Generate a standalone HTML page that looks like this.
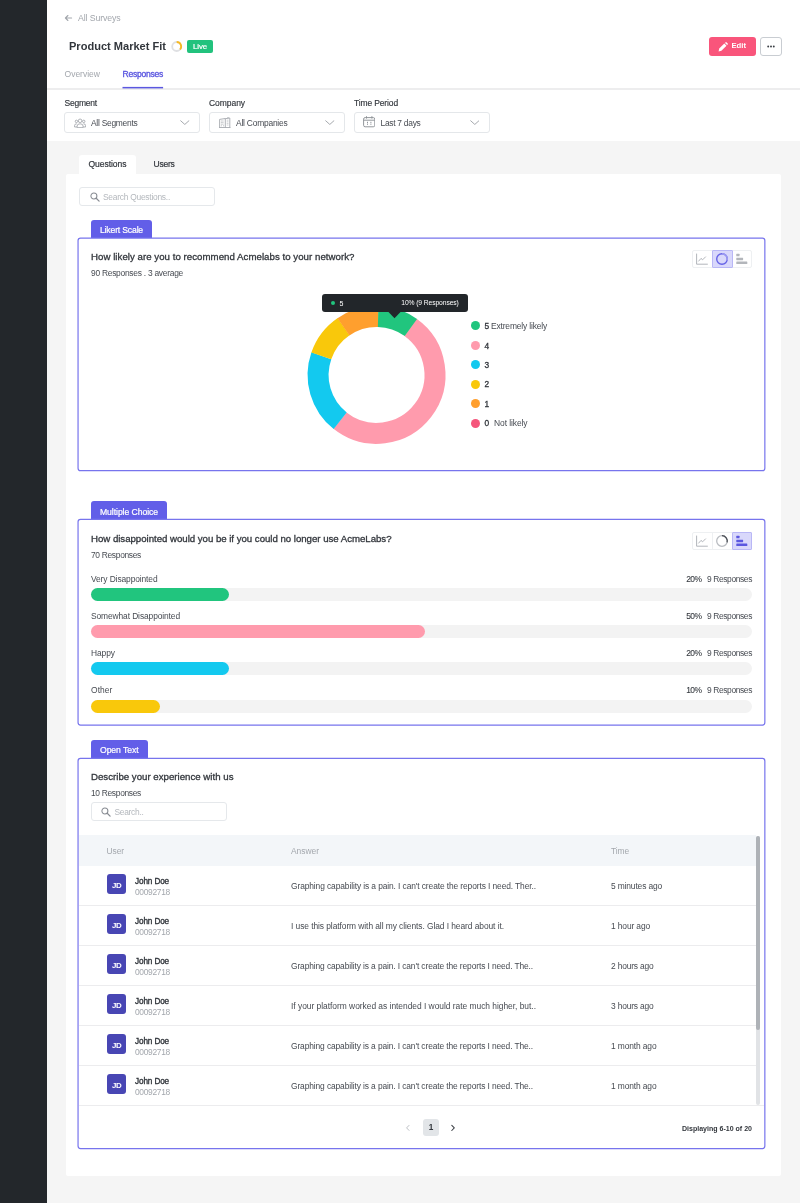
<!DOCTYPE html>
<html lang="en"><head><meta charset="utf-8"><title>Product Market Fit - Responses</title>
<style>
*{box-sizing:border-box;margin:0;padding:0}
html,body{width:800px;height:1203px;overflow:hidden}
body{position:relative;background:#f5f5f5;font-family:"Liberation Sans",sans-serif;-webkit-font-smoothing:antialiased}
.a{position:absolute}
.t{position:absolute;white-space:nowrap;line-height:1;transform:translateY(-47%)}
.side{left:0;top:0;width:47px;height:1203px;background:#23272b}
.head{left:47px;top:0;width:753px;height:141px;background:#fff}
.hr{left:47px;top:88px;width:753px;height:2px;background:#ededee}
.tabline{left:122.5px;top:87px;width:40.5px;height:1.3px;background:#5b57e0}
.live{left:187px;top:40px;width:26px;height:13px;background:#22c27d;border-radius:2px}
.edit{left:709px;top:37px;width:46.5px;height:18.5px;background:#f9557b;border-radius:3px}
.more{left:760px;top:37px;width:22px;height:18.5px;background:#fff;border:1px solid #c9cdd2;border-radius:3px}
.sel{top:112px;width:136px;height:21px;background:#fff;border:1px solid #e4e7ea;border-radius:3px}
.panel{left:66px;top:174px;width:715px;height:1001.5px;background:#fff;border-radius:2px}
.qtab{left:79px;top:154.5px;width:56.5px;height:22px;background:#fff;border-radius:3px 3px 0 0}
.inp{background:#fff;border:1px solid #e5e8eb;border-radius:3px}
.ctab{left:91px;height:18px;background:#625ee8;border-radius:3px 3px 0 0}
.card{left:77px;width:689px;border:2px solid #9794f4;border-radius:3px;background:#fff}
.tog{left:692px;width:60px;height:18px;border:1px solid #eef0f2;border-radius:2px;background:#fff}
.tog i{position:absolute;top:-1px;width:20.5px;height:18px;display:block}
.tog .on{background:#d9d8fb;border:1px solid #b9b7f6;border-radius:1px}
.track{left:91px;width:661px;height:13px;border-radius:7px;background:#f3f3f3}
.bar{left:91px;height:13px;border-radius:7px}
.thead{left:79px;top:835px;width:677px;height:30.5px;background:#f3f6f9}
.rl{left:79px;width:677px;height:1px;background:#ececee}
.av{left:107px;width:19px;height:19.6px;border-radius:3px;background:#4846b4}
.dot{left:471px;width:9px;height:9px;border-radius:50%}
.tog .dv{width:1px;height:16px;top:0;background:#eef0f2}

</style></head><body>
<div class="a side"></div>
<div class="a head"></div>
<div class="a hr"></div>
<svg class="a" style="left:120px;top:85px" width="46" height="5" viewBox="120 85 46 5"><rect x="122.5" y="86.9" width="40.6" height="1.5" fill="#5b57e0"/></svg>
<!-- back arrow -->
<svg class="a" style="left:64px;top:14.4px" width="9" height="8" viewBox="0 0 9 8"><path d="M7.6 4H1.6M3.9 1.5L1.4 4L3.9 6.5" fill="none" stroke="#a3a7ad" stroke-width="1.1" stroke-linecap="round" stroke-linejoin="round"/></svg>
<!-- spinner -->
<svg class="a" style="left:171px;top:40px" width="12" height="12" viewBox="0 0 12 12"><circle cx="5.7" cy="6.5" r="4.5" fill="none" stroke="#dfe0e3" stroke-width="1.8"/><path d="M5.7 2A4.5 4.5 0 0 1 9 9.5" fill="none" stroke="#f7b924" stroke-width="1.8"/></svg>
<div class="a live"></div>
<div class="a edit"></div>
<svg class="a" style="left:717.5px;top:41.5px" width="10" height="10" viewBox="0 0 10 10"><path d="M0.6 9.4L1.2 6.6L6.3 1.5L8.5 3.7L3.4 8.8Z M7 0.9L7.6 0.3Q8 0 8.4 0.3L9.7 1.6Q10 2 9.7 2.4L9.1 3Z" fill="#fff"/></svg>
<div class="a more"></div>
<svg class="a" style="left:766px;top:44.5px" width="10" height="3" viewBox="0 0 10 3"><circle cx="2.2" cy="1.5" r="0.95" fill="#3a3e44"/><circle cx="5" cy="1.5" r="0.95" fill="#3a3e44"/><circle cx="7.8" cy="1.5" r="0.95" fill="#3a3e44"/></svg>
<!-- selects -->
<div class="a sel" style="left:64px"></div>
<div class="a sel" style="left:209px"></div>
<div class="a sel" style="left:354px"></div>
<svg class="a" style="left:180px;top:120px" width="9.6" height="5.4" viewBox="0 0 11 6"><path d="M0.8 0.8L5.5 5L10.2 0.8" fill="none" stroke="#8d9197" stroke-width="0.9" stroke-linecap="round" stroke-linejoin="round"/></svg>
<svg class="a" style="left:325px;top:120px" width="9.6" height="5.4" viewBox="0 0 11 6"><path d="M0.8 0.8L5.5 5L10.2 0.8" fill="none" stroke="#8d9197" stroke-width="0.9" stroke-linecap="round" stroke-linejoin="round"/></svg>
<svg class="a" style="left:469.7px;top:120px" width="9.6" height="5.4" viewBox="0 0 11 6"><path d="M0.8 0.8L5.5 5L10.2 0.8" fill="none" stroke="#8d9197" stroke-width="0.9" stroke-linecap="round" stroke-linejoin="round"/></svg>
<!-- select icons -->
<svg class="a" style="left:74px;top:117.6px" width="12.2" height="10.3" viewBox="0 0 13 11"><g fill="none" stroke="#9a9ea4" stroke-width="0.85"><circle cx="6.5" cy="3" r="1.9"/><path d="M3.3 10.3V8.6Q3.3 6.2 6.5 6.2Q9.7 6.2 9.7 8.6V10.3Z"/><circle cx="2.6" cy="3.6" r="1.3"/><circle cx="10.4" cy="3.6" r="1.3"/><path d="M3 6.2Q0.6 6.2 0.6 8V9.6H3.2M10 6.2Q12.4 6.2 12.4 8V9.6H9.8"/></g></svg>
<svg class="a" style="left:219px;top:117px" width="11.5" height="11" viewBox="0 0 11.5 11"><g fill="none" stroke="#9a9ea4" stroke-width="0.8"><path d="M0.6 10.4V2.4L6.3 1.5V10.4M6.3 1.7L10.8 1V10.4M0 10.5H11.5M9 0V1.2"/><path d="M1.9 4H5M1.9 5.6H5M1.9 7.2H5M1.9 8.8H2.9M4 8.8H5M7.8 3.2H9.5M7.8 4.8H9.5M7.8 6.4H9.5M7.8 8H9.5" stroke-width="0.7" stroke-dasharray="0.9 0.5"/></g></svg>
<svg class="a" style="left:363px;top:116.3px" width="12.4" height="11.4" viewBox="0 0 12.4 11.4"><g fill="none" stroke="#8d9197" stroke-width="0.95"><rect x="0.6" y="1.6" width="11.2" height="9.2" rx="1.5"/><path d="M0.6 4.2H11.8M3.5 0.2V2.6M8.9 0.2V2.6"/><path d="M4.5 5.8V8.8M7.9 5.8V8.8" stroke-width="1" stroke-dasharray="1.2 0.6"/></g></svg>
<!-- panel -->
<div class="a qtab"></div>
<div class="a panel"></div>
<div class="a inp" style="left:79px;top:187px;width:136px;height:19px"></div>
<svg class="a" style="left:89.5px;top:191.5px" width="10" height="10" viewBox="0 0 10 10"><circle cx="3.9" cy="3.9" r="3" fill="none" stroke="#888c93" stroke-width="1.05"/><path d="M6.2 6.2L9.1 9.1" stroke="#888c93" stroke-width="1.25" stroke-linecap="round"/></svg>
<!-- card 1 -->
<div class="a ctab" style="top:219.5px;width:61px"></div>
<svg class="a" style="left:70px;top:234px" width="700" height="242" viewBox="70 234 700 242"><rect x="78.05" y="238.1" width="686.8" height="232.6" rx="2.5" fill="#fff" stroke="#7774ed" stroke-width="1.2"/></svg>
<div class="a tog" style="top:250px"><i class="on" style="left:19px"></i></div>
<svg class="a" style="left:692.25px;top:250px" width="60" height="18" viewBox="0 0 60 18">
<g fill="none" stroke="#a9adb3" stroke-width="0.9"><path d="M4.6 3.6V14.2H15.8"/><path d="M6.4 11.4L9 8.4L10.6 9.8L13.8 6.6" stroke-linejoin="round"/></g>
<circle cx="30" cy="9" r="5.3" fill="none" stroke="#6562e6" stroke-width="1.4"/>
<path d="M30 3.7A5.3 5.3 0 0 1 35.1 10.4" fill="none" stroke="#9c9af2" stroke-width="1.4"/>
<g fill="#b3b6bb"><rect x="44.3" y="3.8" width="3.2" height="2.5" rx="0.4"/><rect x="44.3" y="7.7" width="6.8" height="2.5" rx="0.4"/><rect x="44.3" y="11.6" width="11" height="2.5" rx="0.4"/></g>
</svg>
<!-- donut -->
<svg class="a" style="left:300px;top:296px" width="160" height="156" viewBox="300 296 160 156">
<g fill="none" stroke-width="21" transform="translate(376.6 375)">
<path d="M33.97 -47.63A58.5 58.5 0 1 1 -36.58 45.66" stroke="#ff9bad"/><path d="M-36.42 45.78A58.5 58.5 0 0 1 -55.25 -19.24" stroke="#13c9ef"/><path d="M-55.31 -19.05A58.5 58.5 0 0 1 -32.97 -48.33" stroke="#f9c80b"/><path d="M-33.13 -48.21A58.5 58.5 0 0 1 1.84 -58.47" stroke="#ff9f2e"/><path d="M1.53 -58.48A58.5 58.5 0 0 1 34.30 -47.39" stroke="#21c57e"/>
</g></svg>
<!-- tooltip -->
<div class="a" style="left:321.5px;top:294.25px;width:146px;height:17.5px;background:#22262a;border-radius:3px"></div>
<svg class="a" style="left:388px;top:311.5px" width="13" height="7" viewBox="0 0 13 7"><path d="M0.5 0H12.5L6.5 6.2Z" fill="#22262a"/></svg>
<div class="a" style="left:330.5px;top:301px;width:4px;height:4px;border-radius:50%;background:#21c57e"></div>
<!-- legend -->
<div class="a dot" style="top:321.4px;background:#21c57e"></div>
<div class="a dot" style="top:341px;background:#ff9bad"></div>
<div class="a dot" style="top:360.4px;background:#13c9ef"></div>
<div class="a dot" style="top:379.9px;background:#f9c80b"></div>
<div class="a dot" style="top:399.3px;background:#ff9f2e"></div>
<div class="a dot" style="top:418.8px;background:#f5557b"></div>
<!-- card 2 -->
<div class="a ctab" style="top:501.25px;width:76px"></div>
<svg class="a" style="left:70px;top:515px" width="700" height="215" viewBox="70 515 700 215"><rect x="78.05" y="519.3" width="686.8" height="205.8" rx="2.5" fill="#fff" stroke="#7774ed" stroke-width="1.2"/></svg>
<div class="a tog" style="top:532.3px"><i class="dv" style="left:19px"></i><i class="on" style="left:39px;width:20px"></i></div>
<svg class="a" style="left:692.25px;top:532.3px" width="60" height="18" viewBox="0 0 60 18">
<g fill="none" stroke="#a9adb3" stroke-width="0.9"><path d="M4.6 3.6V14.2H15.8"/><path d="M6.4 11.4L9 8.4L10.6 9.8L13.8 6.6" stroke-linejoin="round"/></g>
<circle cx="30" cy="9" r="5.3" fill="none" stroke="#b9bcc1" stroke-width="1.3"/>
<path d="M30 3.7A5.3 5.3 0 0 1 35.1 10.4" fill="none" stroke="#4a4e55" stroke-width="1.3"/>
<g fill="#5b57e0"><rect x="44.3" y="3.8" width="3.2" height="2.5" rx="0.4"/><rect x="44.3" y="7.7" width="6.8" height="2.5" rx="0.4"/><rect x="44.3" y="11.6" width="11" height="2.5" rx="0.4"/></g>
</svg>
<div class="a track" style="top:588px"></div><div class="a bar" style="top:588px;width:138px;background:#21c57e"></div>
<div class="a track" style="top:625.2px"></div><div class="a bar" style="top:625.2px;width:333.5px;background:#ff9bad"></div>
<div class="a track" style="top:662.4px"></div><div class="a bar" style="top:662.4px;width:138px;background:#13c9ef"></div>
<div class="a track" style="top:699.6px"></div><div class="a bar" style="top:699.6px;width:69px;background:#f9c80b"></div>
<!-- card 3 -->
<div class="a ctab" style="top:739.5px;width:56.5px"></div>
<svg class="a" style="left:70px;top:754px" width="700" height="399" viewBox="70 754 700 399"><rect x="78.05" y="758.4" width="686.8" height="390.2" rx="2.5" fill="#fff" stroke="#7774ed" stroke-width="1.2"/></svg>
<div class="a inp" style="left:91px;top:802px;width:136px;height:19px"></div>
<svg class="a" style="left:101px;top:806.5px" width="10" height="10" viewBox="0 0 10 10"><circle cx="3.9" cy="3.9" r="3" fill="none" stroke="#888c93" stroke-width="1.05"/><path d="M6.2 6.2L9.1 9.1" stroke="#888c93" stroke-width="1.25" stroke-linecap="round"/></svg>
<div class="a thead"></div>
<div class="a rl" style="top:905px"></div><div class="a rl" style="top:945px"></div><div class="a rl" style="top:985px"></div><div class="a rl" style="top:1025px"></div><div class="a rl" style="top:1065px"></div><div class="a rl" style="top:1105px;width:685px"></div>
<div class="a av" style="top:874.4px"></div><div class="a av" style="top:914.4px"></div><div class="a av" style="top:954.4px"></div><div class="a av" style="top:994.4px"></div><div class="a av" style="top:1034.4px"></div><div class="a av" style="top:1074.4px"></div>
<!-- scrollbar -->
<div class="a" style="left:756px;top:836px;width:3.5px;height:269px;background:#e1e3e6;border-radius:2px"></div>
<div class="a" style="left:756px;top:836px;width:3.5px;height:194px;background:#aeb2b7;border-radius:2px"></div>
<!-- pagination -->
<div class="a" style="left:423px;top:1119px;width:16px;height:17px;background:#e2e5e8;border-radius:3px"></div>
<svg class="a" style="left:405px;top:1124px" width="6" height="8" viewBox="0 0 6 8"><path d="M4 1.4L1.6 3.9L4 6.4" fill="none" stroke="#b4b8bd" stroke-width="0.9" stroke-linecap="round" stroke-linejoin="round"/></svg>
<svg class="a" style="left:449.5px;top:1124px" width="6" height="8" viewBox="0 0 6 8"><path d="M1.8 1.3L4.3 3.9L1.8 6.5" fill="none" stroke="#3e4248" stroke-width="1.05" stroke-linecap="round" stroke-linejoin="round"/></svg>

<span class="t" id="t0" style="left:78px;top:18.0px;font-size:8.75px;font-weight:400;color:#a3a7ad;letter-spacing:-0.115px;">All Surveys</span>
<span class="t" id="t1" style="left:69px;top:46.2px;font-size:11.05px;font-weight:700;color:#32363c;letter-spacing:0.001px;">Product Market Fit</span>
<span class="t" id="t2" style="left:193px;top:47.0px;font-size:7.85px;font-weight:400;color:#ffffff;letter-spacing:-0.098px;-webkit-text-stroke:0.2px #ffffff;">Live</span>
<span class="t" id="t3" style="left:64.5px;top:74.0px;font-size:8.54px;font-weight:400;color:#a3a7ad;letter-spacing:-0.008px;">Overview</span>
<span class="t" id="t4" style="left:122.5px;top:74.0px;font-size:8.54px;font-weight:400;color:#5b57e0;letter-spacing:-0.243px;-webkit-text-stroke:0.35px #5b57e0;">Responses</span>
<span class="t" id="t5" style="left:731.5px;top:46px;font-size:7.68px;font-weight:700;color:#ffffff;">Edit</span>
<span class="t" id="t6" style="left:64.5px;top:103px;font-size:8.49px;font-weight:400;color:#32363c;letter-spacing:-0.210px;-webkit-text-stroke:0.15px #32363c;">Segment</span>
<span class="t" id="t7" style="left:209px;top:103px;font-size:8.49px;font-weight:400;color:#32363c;letter-spacing:-0.045px;-webkit-text-stroke:0.15px #32363c;">Company</span>
<span class="t" id="t8" style="left:354px;top:103px;font-size:8.49px;font-weight:400;color:#32363c;letter-spacing:-0.129px;-webkit-text-stroke:0.15px #32363c;">Time Period</span>
<span class="t" id="t9" style="left:91px;top:122.5px;font-size:8.41px;font-weight:400;color:#474b52;letter-spacing:-0.253px;">All Segments</span>
<span class="t" id="t10" style="left:236px;top:122.5px;font-size:8.41px;font-weight:400;color:#474b52;letter-spacing:-0.208px;">All Companies</span>
<span class="t" id="t11" style="left:380.5px;top:122.5px;font-size:8.41px;font-weight:400;color:#474b52;letter-spacing:-0.273px;">Last 7 days</span>
<span class="t" id="t12" style="left:88.5px;top:164.1px;font-size:8.54px;font-weight:400;color:#32363c;letter-spacing:-0.047px;-webkit-text-stroke:0.2px #32363c;">Questions</span>
<span class="t" id="t13" style="left:153.5px;top:164.1px;font-size:8.54px;font-weight:400;color:#32363c;letter-spacing:-0.256px;-webkit-text-stroke:0.2px #32363c;">Users</span>
<span class="t" id="t14" style="left:103px;top:197px;font-size:8.41px;font-weight:400;color:#b4b8bd;letter-spacing:-0.250px;">Search Questions..</span>
<span class="t" id="t15" style="left:100px;top:230px;font-size:8.65px;font-weight:400;color:#ffffff;letter-spacing:-0.172px;-webkit-text-stroke:0.2px #ffffff;">Likert Scale</span>
<span class="t" id="t16" style="left:91px;top:257.0px;font-size:9.67px;font-weight:400;color:#32363c;letter-spacing:0.037px;-webkit-text-stroke:0.3px #32363c;">How likely are you to recommend Acmelabs to your network?</span>
<span class="t" id="t17" style="left:91px;top:272.75px;font-size:8.41px;font-weight:400;color:#474b52;letter-spacing:-0.256px;">90 Responses . 3 average</span>
<span class="t" id="t18" style="left:339.5px;top:303px;font-size:7.04px;font-weight:400;color:#ffffff;">5</span>
<span class="t" id="t19" style="left:401.25px;top:303px;font-size:6.74px;font-weight:400;color:#ffffff;letter-spacing:-0.097px;">10% (9 Responses)</span>
<span class="t" id="t20" style="left:484.5px;top:326px;font-size:8.36px;font-weight:400;color:#32363c;-webkit-text-stroke:0.3px #32363c;">5</span>
<span class="t" id="t21" style="left:491px;top:326px;font-size:8.46px;font-weight:400;color:#474b52;letter-spacing:-0.170px;">Extremely likely</span>
<span class="t" id="t22" style="left:484.5px;top:345.5px;font-size:8.36px;font-weight:400;color:#32363c;-webkit-text-stroke:0.3px #32363c;">4</span>
<span class="t" id="t23" style="left:484.5px;top:365px;font-size:8.36px;font-weight:400;color:#32363c;-webkit-text-stroke:0.3px #32363c;">3</span>
<span class="t" id="t24" style="left:484.5px;top:384.4px;font-size:8.36px;font-weight:400;color:#32363c;-webkit-text-stroke:0.3px #32363c;">2</span>
<span class="t" id="t25" style="left:484.5px;top:403.8px;font-size:8.36px;font-weight:400;color:#32363c;-webkit-text-stroke:0.3px #32363c;">1</span>
<span class="t" id="t26" style="left:484.5px;top:423.3px;font-size:8.36px;font-weight:400;color:#32363c;-webkit-text-stroke:0.3px #32363c;">0</span>
<span class="t" id="t27" style="left:494px;top:423.3px;font-size:8.46px;font-weight:400;color:#474b52;letter-spacing:-0.080px;">Not likely</span>
<span class="t" id="t28" style="left:100px;top:512px;font-size:8.65px;font-weight:400;color:#ffffff;letter-spacing:-0.065px;-webkit-text-stroke:0.2px #ffffff;">Multiple Choice</span>
<span class="t" id="t29" style="left:91px;top:538.8px;font-size:9.67px;font-weight:400;color:#32363c;letter-spacing:-0.026px;-webkit-text-stroke:0.3px #32363c;">How disappointed would you be if you could no longer use AcmeLabs?</span>
<span class="t" id="t30" style="left:91px;top:554.75px;font-size:8.41px;font-weight:400;color:#474b52;letter-spacing:-0.312px;">70 Responses</span>
<span class="t" id="t31" style="left:91px;top:578.5px;font-size:8.41px;font-weight:400;color:#474b52;letter-spacing:-0.102px;">Very Disappointed</span>
<span class="t" id="t32" style="left:686.25px;top:578.5px;font-size:8.41px;font-weight:400;color:#32363c;letter-spacing:-0.609px;-webkit-text-stroke:0.08px #32363c;">20%</span>
<span class="t" id="t33" style="left:707px;top:578.5px;font-size:8.41px;font-weight:400;color:#474b52;letter-spacing:-0.371px;">9 Responses</span>
<span class="t" id="t34" style="left:91px;top:615.7px;font-size:8.41px;font-weight:400;color:#474b52;letter-spacing:-0.101px;">Somewhat Disappointed</span>
<span class="t" id="t35" style="left:686.25px;top:615.7px;font-size:8.41px;font-weight:400;color:#32363c;letter-spacing:-0.609px;-webkit-text-stroke:0.08px #32363c;">50%</span>
<span class="t" id="t36" style="left:707px;top:615.7px;font-size:8.41px;font-weight:400;color:#474b52;letter-spacing:-0.371px;">9 Responses</span>
<span class="t" id="t37" style="left:91px;top:652.9px;font-size:8.41px;font-weight:400;color:#474b52;letter-spacing:-0.062px;">Happy</span>
<span class="t" id="t38" style="left:686.25px;top:652.9px;font-size:8.41px;font-weight:400;color:#32363c;letter-spacing:-0.609px;-webkit-text-stroke:0.08px #32363c;">20%</span>
<span class="t" id="t39" style="left:707px;top:652.9px;font-size:8.41px;font-weight:400;color:#474b52;letter-spacing:-0.371px;">9 Responses</span>
<span class="t" id="t40" style="left:91px;top:690.1px;font-size:8.41px;font-weight:400;color:#474b52;letter-spacing:0.094px;">Other</span>
<span class="t" id="t41" style="left:686.25px;top:690.1px;font-size:8.41px;font-weight:400;color:#32363c;letter-spacing:-0.609px;-webkit-text-stroke:0.08px #32363c;">10%</span>
<span class="t" id="t42" style="left:707px;top:690.1px;font-size:8.41px;font-weight:400;color:#474b52;letter-spacing:-0.371px;">9 Responses</span>
<span class="t" id="t43" style="left:100px;top:750px;font-size:8.65px;font-weight:400;color:#ffffff;letter-spacing:-0.073px;-webkit-text-stroke:0.2px #ffffff;">Open Text</span>
<span class="t" id="t44" style="left:91px;top:777.0px;font-size:9.67px;font-weight:400;color:#32363c;letter-spacing:0.008px;-webkit-text-stroke:0.3px #32363c;">Describe your experience with us</span>
<span class="t" id="t45" style="left:91px;top:793px;font-size:8.41px;font-weight:400;color:#474b52;letter-spacing:-0.312px;">10 Responses</span>
<span class="t" id="t46" style="left:114.5px;top:812px;font-size:8.41px;font-weight:400;color:#b4b8bd;letter-spacing:-0.289px;">Search..</span>
<span class="t" id="t47" style="left:106.5px;top:850.75px;font-size:8.41px;font-weight:400;color:#a3a7ad;letter-spacing:-0.062px;">User</span>
<span class="t" id="t48" style="left:291px;top:850.75px;font-size:8.41px;font-weight:400;color:#a3a7ad;letter-spacing:-0.005px;">Answer</span>
<span class="t" id="t49" style="left:611px;top:850.75px;font-size:8.41px;font-weight:400;color:#a3a7ad;letter-spacing:-0.094px;">Time</span>
<span class="t" id="t50" style="left:135px;top:881.6px;font-size:8.18px;font-weight:400;color:#32363c;letter-spacing:-0.123px;-webkit-text-stroke:0.35px #32363c;">John Doe</span>
<span class="t" id="t51" style="left:135px;top:891.8px;font-size:8.41px;font-weight:400;color:#a3a7ad;letter-spacing:-0.301px;">00092718</span>
<span class="t" id="t52" style="left:291px;top:886px;font-size:8.41px;font-weight:400;color:#474b52;letter-spacing:-0.103px;">Graphing capability is a pain. I can't create the reports I need. Ther..</span>
<span class="t" id="t53" style="left:611px;top:886px;font-size:8.41px;font-weight:400;color:#474b52;letter-spacing:-0.139px;">5 minutes ago</span>
<span class="t" id="t54" style="left:112px;top:885.9px;font-size:7.91px;font-weight:700;color:#ffffff;letter-spacing:-0.455px;">JD</span>
<span class="t" id="t55" style="left:135px;top:921.6px;font-size:8.18px;font-weight:400;color:#32363c;letter-spacing:-0.123px;-webkit-text-stroke:0.35px #32363c;">John Doe</span>
<span class="t" id="t56" style="left:135px;top:931.8px;font-size:8.41px;font-weight:400;color:#a3a7ad;letter-spacing:-0.301px;">00092718</span>
<span class="t" id="t57" style="left:291px;top:926px;font-size:8.41px;font-weight:400;color:#474b52;letter-spacing:-0.068px;">I use this platform with all my clients. Glad I heard about it.</span>
<span class="t" id="t58" style="left:611px;top:926px;font-size:8.41px;font-weight:400;color:#474b52;letter-spacing:-0.120px;">1 hour ago</span>
<span class="t" id="t59" style="left:112px;top:925.9px;font-size:7.91px;font-weight:700;color:#ffffff;letter-spacing:-0.455px;">JD</span>
<span class="t" id="t60" style="left:135px;top:961.6px;font-size:8.18px;font-weight:400;color:#32363c;letter-spacing:-0.123px;-webkit-text-stroke:0.35px #32363c;">John Doe</span>
<span class="t" id="t61" style="left:135px;top:971.8px;font-size:8.41px;font-weight:400;color:#a3a7ad;letter-spacing:-0.301px;">00092718</span>
<span class="t" id="t62" style="left:291px;top:966px;font-size:8.41px;font-weight:400;color:#474b52;letter-spacing:-0.113px;">Graphing capability is a pain. I can't create the reports I need. The..</span>
<span class="t" id="t63" style="left:611px;top:966px;font-size:8.41px;font-weight:400;color:#474b52;letter-spacing:-0.173px;">2 hours ago</span>
<span class="t" id="t64" style="left:112px;top:965.9px;font-size:7.91px;font-weight:700;color:#ffffff;letter-spacing:-0.455px;">JD</span>
<span class="t" id="t65" style="left:135px;top:1001.6px;font-size:8.18px;font-weight:400;color:#32363c;letter-spacing:-0.123px;-webkit-text-stroke:0.35px #32363c;">John Doe</span>
<span class="t" id="t66" style="left:135px;top:1011.8px;font-size:8.41px;font-weight:400;color:#a3a7ad;letter-spacing:-0.301px;">00092718</span>
<span class="t" id="t67" style="left:291px;top:1006px;font-size:8.41px;font-weight:400;color:#474b52;letter-spacing:-0.019px;">If your platform worked as intended I would rate much higher, but..</span>
<span class="t" id="t68" style="left:611px;top:1006px;font-size:8.41px;font-weight:400;color:#474b52;letter-spacing:-0.173px;">3 hours ago</span>
<span class="t" id="t69" style="left:112px;top:1005.9px;font-size:7.91px;font-weight:700;color:#ffffff;letter-spacing:-0.455px;">JD</span>
<span class="t" id="t70" style="left:135px;top:1041.6px;font-size:8.18px;font-weight:400;color:#32363c;letter-spacing:-0.123px;-webkit-text-stroke:0.35px #32363c;">John Doe</span>
<span class="t" id="t71" style="left:135px;top:1051.8px;font-size:8.41px;font-weight:400;color:#a3a7ad;letter-spacing:-0.301px;">00092718</span>
<span class="t" id="t72" style="left:291px;top:1046px;font-size:8.41px;font-weight:400;color:#474b52;letter-spacing:-0.113px;">Graphing capability is a pain. I can't create the reports I need. The..</span>
<span class="t" id="t73" style="left:611px;top:1046px;font-size:8.41px;font-weight:400;color:#474b52;letter-spacing:-0.114px;">1 month ago</span>
<span class="t" id="t74" style="left:112px;top:1045.9px;font-size:7.91px;font-weight:700;color:#ffffff;letter-spacing:-0.455px;">JD</span>
<span class="t" id="t75" style="left:135px;top:1081.6px;font-size:8.18px;font-weight:400;color:#32363c;letter-spacing:-0.123px;-webkit-text-stroke:0.35px #32363c;">John Doe</span>
<span class="t" id="t76" style="left:135px;top:1091.8px;font-size:8.41px;font-weight:400;color:#a3a7ad;letter-spacing:-0.301px;">00092718</span>
<span class="t" id="t77" style="left:291px;top:1086px;font-size:8.41px;font-weight:400;color:#474b52;letter-spacing:-0.113px;">Graphing capability is a pain. I can't create the reports I need. The..</span>
<span class="t" id="t78" style="left:611px;top:1086px;font-size:8.41px;font-weight:400;color:#474b52;letter-spacing:-0.114px;">1 month ago</span>
<span class="t" id="t79" style="left:112px;top:1085.9px;font-size:7.91px;font-weight:700;color:#ffffff;letter-spacing:-0.455px;">JD</span>
<span class="t" id="t80" style="left:428.8px;top:1127.6px;font-size:8.18px;font-weight:700;color:#32363c;">1</span>
<span class="t" id="t81" style="left:682px;top:1127.5px;font-size:7.04px;font-weight:700;color:#32363c;letter-spacing:0.002px;">Displaying 6-10 of 20</span>
</body></html>
